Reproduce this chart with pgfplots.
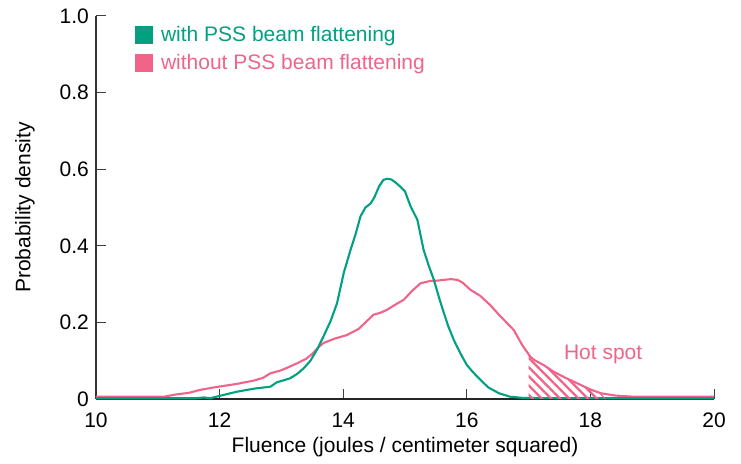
\documentclass[border=0pt]{standalone}
\usepackage{pgfplots}
\pgfplotsset{compat=1.18}
\usepackage{fontspec}
\setmainfont{Liberation Sans}
\usetikzlibrary{patterns.meta}
\definecolor{tgreen}{RGB}{0,160,128}
\definecolor{tpink}{RGB}{240,100,138}

\begin{document}
\fontsize{21bp}{25bp}\selectfont
\begin{tikzpicture}
\begin{axis}[
  scale only axis, width=618bp, height=383bp,
  xmin=10, xmax=20, ymin=0, ymax=1,
  axis x line=bottom, axis y line=left,
  x axis line style={-, line width=2.6bp, black!85},
  y axis line style={-, line width=1.8bp, black!80},
  xtick={10,12,...,20}, ytick={0,0.2,0.4,0.6,0.8,1.0},
  xticklabels={10,12,14,16,18,20},
  yticklabels={0,0.2,0.4,0.6,0.8,1.0},
  xticklabel style={yshift=-7bp},
  tick align=inside, major tick length=10bp,
  tick style={black!75, line width=1bp},
  /pgf/number format/assume math mode=true,
  xlabel={Fluence (joules / centimeter squared)},
  ylabel={Probability density},
  xlabel style={at={(axis description cs:0.5,-0.125)}, anchor=center},
  ylabel style={at={(axis description cs:-0.115,0.5)}, anchor=center},
  clip=false,
  legend style={draw=none, fill=none, at={(axis description cs:0.058,0.98)}, anchor=north west,
    row sep=10bp, column sep=8bp, nodes={inner sep=0pt, anchor=west}},
  legend cell align=left,
  legend image code/.code={\fill[#1] (0bp,-9bp) rectangle (18bp,9bp);},
]
\addlegendimage{fill=tgreen, draw=none}
\addlegendentry{\textcolor{tgreen}{with PSS beam flattening}}
\addlegendimage{fill=tpink, draw=none}
\addlegendentry{\textcolor{tpink}{without PSS beam flattening}}

% without PSS (pink)
\addplot[forget plot, tpink, line width=2.1bp, line join=round] coordinates {
(10,0.006) (11.1,0.006) (11.3,0.012) (11.5,0.016) (11.69,0.024) (11.9,0.03) (12.06,0.034)
(12.3,0.04) (12.55,0.048) (12.7,0.055) (12.82,0.067) (12.98,0.074) (13.1,0.082) (13.25,0.093)
(13.4,0.105) (13.5,0.118) (13.6,0.135) (13.68,0.146) (13.85,0.157) (14.06,0.167) (14.25,0.183)
(14.49,0.22) (14.6,0.225) (14.71,0.233) (14.85,0.247) (14.98,0.259) (15.1,0.28) (15.25,0.302)
(15.4,0.308) (15.52,0.309) (15.74,0.313) (15.85,0.311) (15.93,0.304) (16.06,0.285) (16.22,0.269)
(16.38,0.245) (16.52,0.22) (16.76,0.18) (16.9,0.14) (17.03,0.11) (17.09,0.102) (17.25,0.088)
(17.41,0.071) (17.6,0.055) (17.84,0.037) (18.0,0.025) (18.17,0.015) (18.4,0.009) (18.7,0.006) (20,0.006)
};
% with PSS (green)
\addplot[forget plot, tgreen, line width=2.1bp, line join=round] coordinates {
(10,0.002) (11.6,0.002) (11.75,0.004) (11.85,0.002) (12.0,0.008) (12.1,0.012) (12.28,0.019)
(12.45,0.024) (12.6,0.028) (12.82,0.032) (12.93,0.044) (13.0,0.047) (13.14,0.054) (13.25,0.065)
(13.36,0.08) (13.47,0.10) (13.58,0.13) (13.68,0.163) (13.8,0.205) (13.9,0.25) (14.01,0.33)
(14.12,0.39) (14.2,0.43) (14.28,0.477) (14.36,0.50) (14.44,0.51) (14.5,0.525) (14.58,0.555)
(14.65,0.572) (14.71,0.575) (14.78,0.573) (14.85,0.565) (14.92,0.555) (15.0,0.542) (15.09,0.503)
(15.2,0.468) (15.3,0.39) (15.38,0.35) (15.47,0.31) (15.55,0.265) (15.63,0.224) (15.7,0.19)
(15.79,0.154) (15.9,0.118) (16.0,0.089) (16.1,0.07) (16.22,0.05) (16.35,0.03) (16.52,0.015)
(16.7,0.006) (16.9,0.003) (17.5,0.002) (20,0.002)
};
% hot spot hatch
\addplot[forget plot, draw=none, pattern={Lines[angle=-45,distance=6.5bp,line width=2.3bp]}, pattern color=tpink] coordinates {
(17.0,0) (17.0,0.112) (17.03,0.11) (17.09,0.102) (17.25,0.088) (17.41,0.071) (17.6,0.055)
(17.84,0.037) (18.0,0.025) (18.17,0.015) (18.25,0)
} \closedcycle;
\node[anchor=west, text=tpink, inner sep=0pt] at (axis cs:17.57,0.115) {Hot spot};
\coordinate (O) at (rel axis cs:0,0);
\coordinate (T) at (rel axis cs:1,1);
\end{axis}
\pgfresetboundingbox
\path[use as bounding box] ([xshift=-96bp,yshift=-64.5bp]O) rectangle ([xshift=27bp,yshift=16bp]T);
\end{tikzpicture}
\end{document}
